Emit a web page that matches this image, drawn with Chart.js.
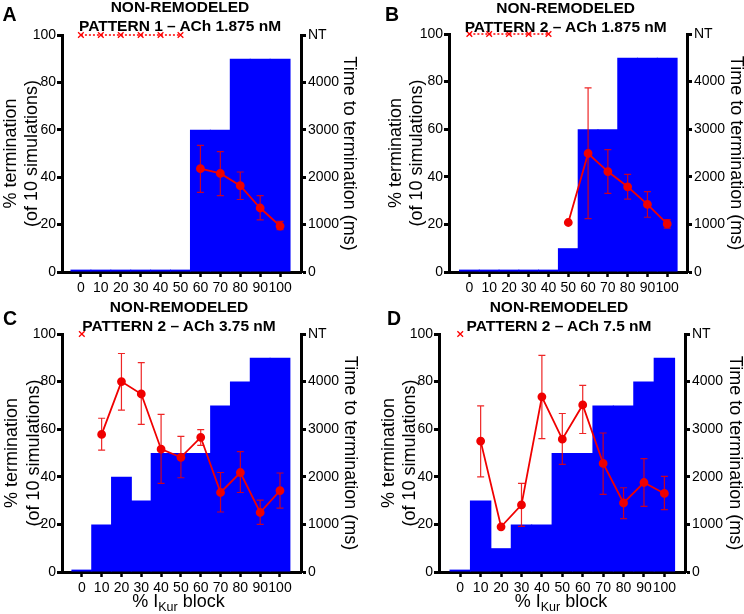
<!DOCTYPE html>
<html>
<head>
<meta charset="utf-8">
<script src="https://cdn.jsdelivr.net/npm/chart.js@4.4.0/dist/chart.umd.min.js"></script>
<style>
body { margin: 0; background: #fff; font-family: "Liberation Sans", Arial, sans-serif; }
#wrap { position: relative; width: 744px; height: 614px; overflow: hidden; }
canvas { position: absolute; }
.ttl { position: absolute; width: 300px; text-align: center; font-weight: bold; font-size: 15.5px; line-height: 18.5px; white-space: nowrap; }
.lt { position: absolute; font-weight: bold; font-size: 19.5px; line-height: 19px; }
.xt { position: absolute; width: 200px; text-align: center; font-size: 18px; line-height: 20px; white-space: nowrap; }
.xt sub { font-size: 12.5px; line-height: 0; vertical-align: -4px; }
</style>
</head>
<body>
<div id="wrap">
  <canvas id="cA" width="372" height="307" style="left:0;top:0"></canvas>
  <canvas id="cB" width="372" height="307" style="left:372px;top:0"></canvas>
  <canvas id="cC" width="372" height="307" style="left:0;top:307px"></canvas>
  <canvas id="cD" width="372" height="307" style="left:372px;top:307px"></canvas>

  <div class="lt" style="left:2.5px;top:4.5px">A</div>
  <div class="lt" style="left:385px;top:4.5px">B</div>
  <div class="lt" style="left:3px;top:309px">C</div>
  <div class="lt" style="left:387px;top:309px">D</div>

  <div class="ttl" style="left:30px;top:-2px">NON-REMODELED<br>PATTERN 1 – ACh 1.875 nM</div>
  <div class="ttl" style="left:415.7px;top:-1px">NON-REMODELED<br>PATTERN 2 – ACh 1.875 nM</div>
  <div class="ttl" style="left:29px;top:298px">NON-REMODELED<br>PATTERN 2 – ACh 3.75 nM</div>
  <div class="ttl" style="left:409px;top:298px">NON-REMODELED<br>PATTERN 2 – ACh 7.5 nM</div>

  <div class="xt" style="left:78.5px;top:590.5px">% I<sub>Kur</sub> block</div>
  <div class="xt" style="left:461px;top:590.5px">% I<sub>Kur</sub> block</div>
</div>
<script>
// % IKur block
const xVals = [0, 10, 20, 30, 40, 50, 60, 70, 80, 90, 100];
const NT = 5000;
const rightTicks = [0, 1000, 2000, 3000, 4000, NT];

// A: pattern 1, ACh 1.875 nM
const termA = [1, 1, 1, 1, 1, 1, 60, 60, 90, 90, 90];
const timeA = [null, null, null, null, null, null, 2180, 2080, 1820, 1350, 970];
const hiA = [null, null, null, null, null, null, 2670, 2540, 2110, 1610, 1070];
const loA = [null, null, null, null, null, null, 1680, 1610, 1530, 1100, 895];
const ntA = [0, 10, 20, 30, 40, 50];

// B: pattern 2, ACh 1.875 nM
const termB = [1, 1, 1, 1, 1, 10, 60, 60, 90, 90, 90];
const timeB = [null, null, null, null, null, 1040, 2490, 2110, 1790, 1420, 1010];
const hiB = [null, null, null, null, null, null, 3870, 2570, 2050, 1690, 1100];
const loB = [null, null, null, null, null, null, 1120, 1650, 1530, 1150, 920];
const ntB = [0, 10, 20, 30, 40];

// C: pattern 2, ACh 3.75 nM
const termC = [1, 20, 40, 30, 50, 50, 50, 70, 80, 90, 90];
const timeC = [null, 2890, 4000, 3740, 2580, 2410, 2830, 1670, 2090, 1250, 1710];
const hiC = [null, 3230, 4590, 4400, 3310, 2850, 2990, 2090, 2530, 1510, 2080];
const loC = [null, 2560, 3400, 3100, 1860, 1980, 2660, 1260, 1670, 1000, 1340];
const ntC = [0];

// D: pattern 2, ACh 7.5 nM
const termD = [1, 30, 10, 20, 20, 50, 50, 70, 70, 80, 90];
const timeD = [null, 2750, 950, 1410, 3680, 2790, 3510, 2280, 1450, 1880, 1650];
const hiD = [null, 3490, null, 1860, 4550, 3330, 3920, 2920, 1770, 2380, 2010];
const loD = [null, 2000, null, 960, 2800, 2260, 2910, 1630, 1120, 1380, 1310];
const ntD = [0];

Chart.defaults.font.family = '"Liberation Sans", Arial, sans-serif';
Chart.defaults.color = '#000';

const errorBars = {
  id: 'errorBars',
  afterDatasetsDraw(chart) {
    const ctx = chart.ctx;
    const xs = chart.scales.x, ys = chart.scales.y2;
    chart.data.datasets.forEach(ds => {
      if (!ds.hi) return;
      ctx.save();
      ctx.strokeStyle = 'rgba(235,0,0,0.85)';
      ctx.lineWidth = 1.2;
      xVals.forEach((v, i) => {
        if (ds.hi[i] == null) return;
        const x = xs.getPixelForValue(v);
        const y1 = ys.getPixelForValue(ds.hi[i]);
        const y2 = ys.getPixelForValue(ds.lo[i]);
        ctx.beginPath();
        ctx.moveTo(x, y1); ctx.lineTo(x, y2);
        ctx.moveTo(x - 3.5, y1); ctx.lineTo(x + 3.5, y1);
        ctx.moveTo(x - 3.5, y2); ctx.lineTo(x + 3.5, y2);
        ctx.stroke();
      });
      ctx.restore();
    });
  }
};

function pts(ys) {
  return xVals.map((x, i) => ({ x: x, y: ys[i] }));
}

// box: plot-area layout for each panel
function panel(id, term, time, hi, lo, nt, box) {
  new Chart(document.getElementById(id), {
    type: 'bar',
    data: {
      datasets: [
        {
          type: 'line', yAxisID: 'y2', order: 0, clip: false,
          data: nt.map(x => ({ x: x, y: NT })),
          borderColor: '#ff0000', borderWidth: 1.5, borderDash: [2, 2],
          pointStyle: 'crossRot', pointRadius: 4, pointBorderWidth: 1.3,
          pointBorderColor: '#ff0000', pointBackgroundColor: '#ff0000'
        },
        {
          type: 'line', yAxisID: 'y2', order: 1,
          data: pts(time), hi: hi, lo: lo,
          borderColor: '#f00000', backgroundColor: '#f00000', borderWidth: 1.8,
          pointRadius: 3.5, pointBackgroundColor: '#f00000', pointBorderColor: '#f00000',
          spanGaps: false
        },
        {
          type: 'bar', yAxisID: 'y', order: 2,
          data: pts(term),
          backgroundColor: '#0000ff', borderWidth: 0,
          // a hair over 1 so neighbouring bars join without seams
          barPercentage: 1.05, categoryPercentage: 1
        }
      ]
    },
    options: {
      responsive: false,
      animation: false,
      layout: { padding: { top: box.top, left: 0, right: 0, bottom: 0 } },
      plugins: { legend: { display: false }, tooltip: { enabled: false } },
      scales: {
        x: {
          type: 'linear', min: box.xMin, max: box.xMax, offset: false,
          afterBuildTicks: s => { s.ticks = xVals.map(v => ({ value: v })); },
          afterFit: s => { s.height = box.xh; },
          grid: { display: true, offset: false, drawOnChartArea: false, drawTicks: true, tickLength: 5, tickWidth: 2.5, tickColor: '#000' },
          border: { display: true, color: '#000', width: 3 },
          ticks: { color: '#000', font: { size: 14 }, padding: 3, maxRotation: 0, autoSkip: false }
        },
        y: {
          position: 'left', min: 0, max: 100,
          afterFit: s => { s.width = box.l; },
          grid: { display: true, drawOnChartArea: false, drawTicks: true, tickLength: 5, tickWidth: 3, tickColor: '#000' },
          border: { display: true, color: '#000', width: 3 },
          ticks: { stepSize: 20, color: '#000', font: { size: 14 }, padding: 1 },
          title: {
            display: true, text: ['% termination', '(of 10 simulations)'],
            color: '#000', font: { size: 18, lineHeight: 1.2 },
            padding: { top: box.lp, bottom: 0 }
          }
        },
        y2: {
          position: 'right', min: 0, max: NT,
          afterFit: s => { s.width = box.r; },
          afterBuildTicks: s => { s.ticks = rightTicks.map(v => ({ value: v })); },
          grid: { display: true, drawOnChartArea: false, drawTicks: true, tickLength: 5, tickWidth: 3, tickColor: '#000' },
          border: { display: true, color: '#000', width: 3 },
          ticks: { color: '#000', font: { size: 14 }, padding: 2, callback: v => v === NT ? 'NT' : v },
          title: {
            display: true, text: 'Time to termination (ms)',
            color: '#000', font: { size: 18, lineHeight: 1.2 },
            padding: { top: box.rp, bottom: 0 }
          }
        }
      }
    },
    plugins: [errorBars]
  });
}

panel('cA', termA, timeA, hiA, loA, ntA, { top: 35, xh: 35, l: 62, r: 71, xMin: -9.5, xMax: 110.5, lp: 0, rp: 12 });
panel('cB', termB, timeB, hiB, loB, ntB, { top: 34, xh: 35, l: 77, r: 57, xMin: -10.3, xMax: 110, lp: 13, rp: -2.3 });
panel('cC', termC, timeC, hiC, loC, ntC, { top: 27, xh: 42, l: 62, r: 71, xMin: -10, xMax: 110.6, lp: 1.5, rp: 11 });
panel('cD', termD, timeD, hiD, loD, ntD, { top: 27, xh: 42, l: 67, r: 59, xMin: -10.4, xMax: 110.1, lp: 6, rp: -1.3 });
</script>
</body>
</html>
